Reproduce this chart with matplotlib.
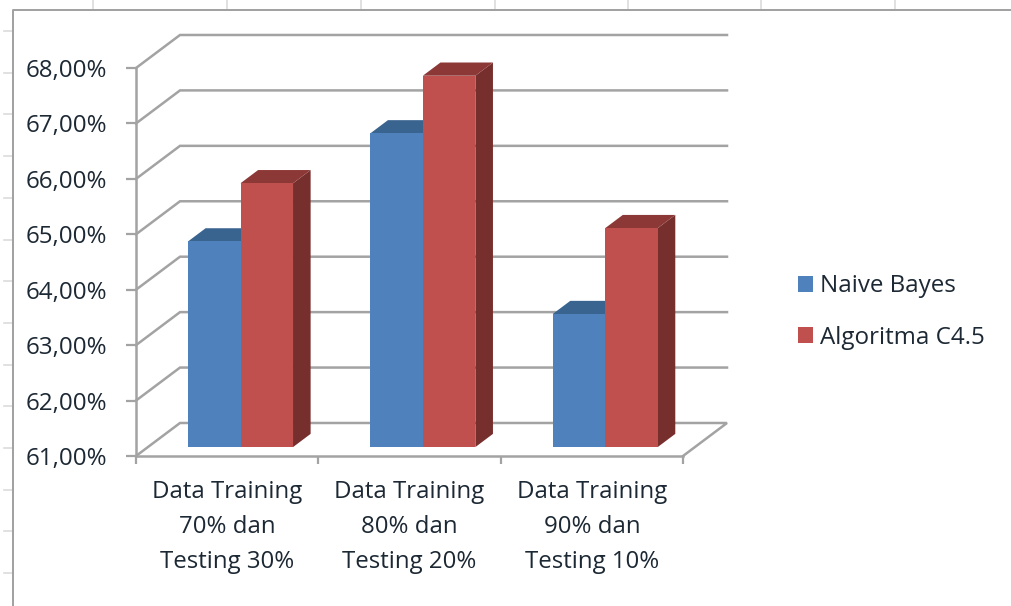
import matplotlib
matplotlib.use("Agg")
import matplotlib.pyplot as plt
import numpy as np
from matplotlib.lines import Line2D
from matplotlib.patches import Patch, Polygon

categories = ["Data Training\n70% dan\nTesting 30%",
              "Data Training\n80% dan\nTesting 20%",
              "Data Training\n90% dan\nTesting 10%"]
series_names = ["Naive Bayes", "Algoritma C4.5"]
naive_bayes = [64.71, 66.66, 63.40]
algoritma_c45 = [65.76, 67.70, 64.95]
y_ticks = [61, 62, 63, 64, 65, 66, 67, 68]
y_tick_labels = ["61,00%", "62,00%", "63,00%", "64,00%",
                 "65,00%", "66,00%", "67,00%", "68,00%"]

W, H = 1011, 606
GREY = "#a3a3a3"
TEXT = "#1c2833"
plt.rcParams["font.family"] = ["Open Sans", "DejaVu Sans"]

# oblique offset of the back wall, in category and value units
DEPTH_X = 44 / 182.3
DEPTH_Y = 33 / 55.4
BAR_FRONT, BAR_BACK = 0.27, 0.67
BAR_LEFT, BAR_W = 0.22, 0.288


def project(x, v, d=0.0):
    return (x + d * DEPTH_X, v + d * DEPTH_Y)


def draw_bar(ax, x, value, front, top, side):
    base = y_ticks[0]
    x2 = x + BAR_W
    ax.add_patch(Polygon([project(x2, base, BAR_FRONT), project(x2, base, BAR_BACK),
                          project(x2, value, BAR_BACK), project(x2, value, BAR_FRONT)],
                         fc=side, ec="none", zorder=3))
    ax.add_patch(Polygon([project(x, value, BAR_FRONT), project(x2, value, BAR_FRONT),
                          project(x2, value, BAR_BACK), project(x, value, BAR_BACK)],
                         fc=top, ec="none", zorder=3))
    ax.add_patch(Polygon([project(x, base, BAR_FRONT), project(x2, base, BAR_FRONT),
                          project(x2, value, BAR_FRONT), project(x, value, BAR_FRONT)],
                         fc=front, ec="none", zorder=3))


def fig_line(fig, xs, ys, color, lw):
    # pixel coordinates, origin top left like the screenshot
    fig.add_artist(Line2D(np.array(xs) / W, 1 - np.array(ys) / H, color=color, lw=lw))


fig = plt.figure(figsize=(W / 100, H / 100), dpi=100)

# worksheet around the chart
for x in [93, 227, 361, 495, 628, 761, 895]:
    fig_line(fig, [x, x], [0, 10], "#dcdcdc", 1.2)
for y in np.arange(31, 600, 41.7):
    fig_line(fig, [4, 13], [y, y], "#dcdcdc", 1.2)
fig_line(fig, [13, 13, W], [H, 10, 10], "#a0a0a0", 1.4)

ax = fig.add_axes([136 / W, 1 - 456 / H, 547 / W, 388 / H])
ax.set_xlim(0, len(categories))
ax.set_ylim(y_ticks[0], y_ticks[-1])
ax.patch.set_visible(False)
for name in ["top", "right"]:
    ax.spines[name].set_visible(False)
for name in ["left", "bottom"]:
    ax.spines[name].set_color(GREY)
    ax.spines[name].set_linewidth(1.8)

# gridlines run from the axis back along the side wall, then across the back wall
for v in y_ticks:
    pts = [project(0, v), project(0, v, 1), project(len(categories), v, 1)]
    if v == y_ticks[0]:
        pts.append(project(len(categories), v))
    ax.plot(*zip(*pts), color=GREY, lw=1.8, zorder=1, clip_on=False, solid_joinstyle="miter")

for i in range(len(categories)):
    draw_bar(ax, i + BAR_LEFT, naive_bayes[i], "#4f81bd", "#3a6490", "#3a6490")
    draw_bar(ax, i + BAR_LEFT + BAR_W, algoritma_c45[i], "#c0504d", "#8c3836", "#772f2d")
for p in ax.patches:
    p.set_clip_on(False)

ax.set_yticks(y_ticks)
ax.set_yticklabels(y_tick_labels, fontsize=17.4, color=TEXT)
ax.set_xticks(np.arange(len(categories) + 1))
ax.set_xticklabels([])
ax.set_xticks(np.arange(len(categories)) + 0.5, minor=True)
ax.set_xticklabels(categories, minor=True, fontsize=17.3, color=TEXT, linespacing=1.62)
ax.tick_params(axis="y", length=7, width=1.6, color=GREY, pad=14)
ax.tick_params(axis="x", which="major", length=6, width=1.6, color=GREY)
ax.tick_params(axis="x", which="minor", length=0, pad=17)

handles = [Patch(fc="#4f81bd", label=series_names[0]),
           Patch(fc="#c0504d", label=series_names[1])]
fig.legend(handles=handles, loc="upper left", bbox_to_anchor=(798 / W, 1 - 274.5 / H),
           frameon=False, fontsize=17.4, labelcolor=TEXT, handlelength=0.6, handleheight=0.67,
           handletextpad=0.33, labelspacing=1.12, borderaxespad=0, borderpad=0)

fig.savefig("out.png", dpi=100)
